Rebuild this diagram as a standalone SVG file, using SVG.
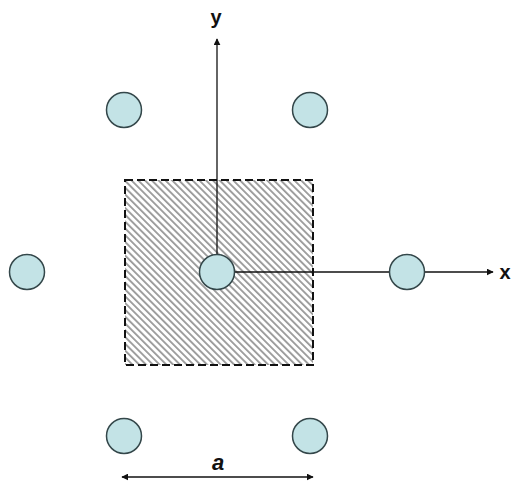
<svg xmlns="http://www.w3.org/2000/svg" width="512" height="484" viewBox="0 0 512 484">
<style>
.site{fill:#c3e3e6;stroke:#34474a;stroke-width:1.5}
.axis{stroke:#111;stroke-width:1.3;fill:none}
.lbl{font-family:"Liberation Sans",Arial,sans-serif;font-weight:bold;fill:#111}
</style>
<defs>
<pattern id="hatch" width="4.8" height="4.8" patternUnits="userSpaceOnUse" patternTransform="rotate(45)">
<rect width="4.8" height="4.8" fill="#fff"/>
<line x1="0" y1="1" x2="4.8" y2="1" stroke="#7a7a7a" stroke-width="1.4"/>
</pattern>
<marker id="arr" viewBox="0 0 10 10" refX="9" refY="5" markerWidth="7" markerHeight="7" markerUnits="userSpaceOnUse" orient="auto-start-reverse">
<path d="M0,0 L10,5 L0,10 Z" fill="#111"/>
</marker>
</defs>
<rect width="512" height="484" fill="#fff"/>
<g id="cell">
<rect x="125" y="180" width="188" height="185" fill="url(#hatch)" stroke="#111" stroke-width="2" stroke-dasharray="8,4"/>
</g>
<g id="connectors">
<line class="axis" x1="217" y1="255" x2="217" y2="39" marker-end="url(#arr)"/>
<line class="axis" x1="235" y1="272" x2="493" y2="272" marker-end="url(#arr)"/>
<line class="axis" x1="122" y1="477" x2="313" y2="477" marker-start="url(#arr)" marker-end="url(#arr)"/>
</g>
<g id="site-center"><circle class="site" cx="217" cy="272" r="17.5"/></g>
<g id="site-left"><circle class="site" cx="27" cy="272" r="17.5"/></g>
<g id="site-right"><circle class="site" cx="407" cy="272" r="17.5"/></g>
<g id="site-tl"><circle class="site" cx="124" cy="110" r="17.5"/></g>
<g id="site-tr"><circle class="site" cx="310" cy="110" r="17.5"/></g>
<g id="site-bl"><circle class="site" cx="124" cy="436" r="17.5"/></g>
<g id="site-br"><circle class="site" cx="310" cy="436" r="17.5"/></g>
<g id="labels">
<text class="lbl" x="216" y="24" font-size="20" text-anchor="middle">y</text>
<text class="lbl" x="505" y="279" font-size="20" text-anchor="middle">x</text>
<text class="lbl" x="218" y="470" font-size="22" font-style="italic" text-anchor="middle">a</text>
</g>
</svg>
